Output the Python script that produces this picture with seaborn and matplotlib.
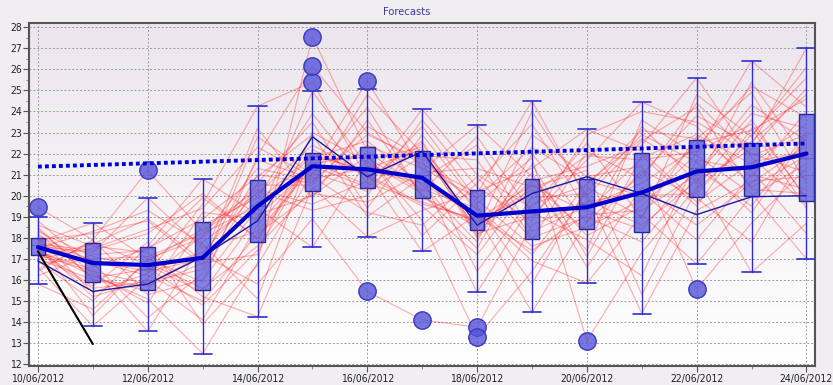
import numpy as np
import pandas as pd
import matplotlib
matplotlib.use('Agg')
import matplotlib.pyplot as plt
import seaborn as sns
from matplotlib.colors import LinearSegmentedColormap
from matplotlib.ticker import MultipleLocator

sns.set_style("white")
plt.rcParams['font.family'] = ['DejaVu Sans']
plt.rcParams['font.stretch'] = 'condensed'

# Tage (x-Achse)
dates = ['10/06/2012', '11/06/2012', '12/06/2012', '13/06/2012', '14/06/2012',
         '15/06/2012', '16/06/2012', '17/06/2012', '18/06/2012', '19/06/2012',
         '20/06/2012', '21/06/2012', '22/06/2012', '23/06/2012', '24/06/2012']

# Ensemble-Mitglieder (rote Linien)
members = [
    [19.45, 17.9, 21.2, 18.3, 20.1, 22.4, 21.0, 19.6, 18.9, 20.5, 19.2, 21.8, 22.9, 21.5, 23.4],
    [17.4, 16.2, 15.1, 12.5, 16.8, 27.55, 22.1, 20.3, 19.4, 17.2, 20.6, 22.7, 21.1, 24.3, 22.6],
    [17.8, 18.7, 17.0, 15.9, 21.9, 26.15, 23.0, 21.5, 20.1, 24.5, 19.8, 18.6, 20.7, 22.2, 25.1],
    [18.0, 15.4, 16.3, 19.6, 24.25, 25.4, 20.8, 22.6, 18.2, 19.0, 21.7, 24.45, 23.3, 20.4, 21.9],
    [17.6, 17.3, 19.9, 17.5, 18.3, 21.3, 25.45, 21.2, 23.35, 20.9, 18.1, 19.5, 22.0, 26.4, 24.2],
    [17.2, 16.4, 15.8, 17.2, 15.8, 18.9, 15.45, 14.1, 13.75, 18.6, 19.7, 20.2, 17.9, 21.0, 20.3],
    [16.9, 15.0, 17.6, 20.8, 19.1, 20.0, 21.9, 18.8, 13.3, 16.4, 20.2, 22.9, 21.6, 19.2, 22.8],
    [17.5, 16.8, 14.2, 16.3, 20.6, 23.5, 19.4, 22.9, 19.6, 21.8, 13.1, 17.3, 20.4, 23.6, 19.8],
    [18.3, 17.1, 16.6, 14.8, 17.4, 21.8, 22.6, 20.5, 17.8, 22.9, 20.9, 21.4, 15.55, 18.7, 21.3],
    [15.8, 14.6, 16.9, 18.4, 20.3, 19.6, 20.7, 24.1, 21.0, 19.4, 22.5, 18.9, 24.8, 22.8, 26.1],
    [17.9, 18.2, 18.8, 16.7, 22.8, 21.0, 24.2, 19.9, 18.7, 20.3, 17.4, 23.6, 21.9, 20.1, 17.0],
    [17.0, 16.0, 15.5, 19.2, 18.9, 24.95, 21.4, 20.8, 22.4, 18.3, 19.5, 20.6, 22.3, 25.2, 23.7],
    [18.6, 17.6, 17.3, 15.2, 14.25, 20.4, 18.05, 19.3, 20.2, 21.3, 23.15, 22.1, 19.7, 21.6, 22.1],
    [17.3, 16.5, 13.55, 17.8, 19.7, 22.0, 21.1, 17.35, 19.1, 14.45, 18.8, 21.0, 23.8, 22.4, 27.0],
    [16.6, 13.8, 16.1, 18.1, 21.3, 20.7, 22.9, 21.7, 16.4, 19.9, 20.1, 14.4, 19.3, 20.7, 20.9],
    [17.7, 17.4, 18.2, 20.1, 17.9, 21.6, 20.5, 23.3, 19.8, 17.6, 18.5, 19.8, 22.5, 23.1, 24.6],
    [18.1, 16.9, 16.4, 17.0, 23.2, 19.9, 23.6, 20.0, 18.5, 20.7, 21.4, 22.4, 25.6, 21.8, 19.6],
    [17.4, 15.7, 17.8, 13.9, 16.7, 21.1, 20.2, 21.9, 21.7, 18.0, 19.0, 17.8, 20.9, 16.35, 18.7],
    [16.4, 17.9, 15.3, 16.0, 19.4, 17.55, 21.7, 22.3, 18.0, 21.1, 16.6, 20.4, 18.6, 20.6, 22.4],
    [18.8, 16.6, 17.5, 18.9, 20.9, 22.9, 19.0, 20.9, 15.4, 19.6, 20.5, 23.1, 22.7, 24.9, 20.6],
    [17.6, 15.2, 16.0, 14.1, 18.6, 21.5, 22.0, 18.1, 20.6, 23.4, 19.3, 18.4, 21.3, 19.5, 23.0],
    [17.1, 17.7, 18.9, 16.9, 21.7, 20.8, 21.3, 22.2, 19.3, 16.9, 15.85, 19.1, 16.75, 20.0, 21.5],
    [18.4, 16.3, 14.9, 18.6, 19.9, 23.9, 20.6, 19.7, 18.8, 20.1, 21.9, 21.7, 22.1, 23.4, 19.9],
    [17.8, 16.7, 16.8, 15.6, 17.6, 20.3, 22.4, 21.3, 19.9, 22.3, 20.7, 20.0, 20.1, 22.9, 25.6],
    [16.2, 17.2, 17.4, 19.9, 18.0, 21.7, 21.8, 20.2, 22.8, 19.2, 17.9, 16.2, 21.7, 21.2, 18.2],
    [18.2, 16.1, 16.5, 17.3, 20.2, 19.3, 20.0, 23.6, 20.4, 18.8, 22.9, 24.0, 23.5, 22.0, 21.1],
    [17.5, 18.3, 19.3, 17.7, 15.1, 22.2, 20.9, 19.5, 17.2, 20.6, 18.3, 21.2, 19.9, 17.8, 22.2],
    [17.3, 15.6, 15.9, 16.5, 21.0, 20.6, 24.8, 22.0, 18.4, 24.0, 20.0, 22.6, 24.2, 20.3, 20.1],
    [16.8, 17.0, 17.1, 18.2, 19.5, 21.9, 21.2, 20.6, 19.0, 17.4, 19.1, 19.3, 21.0, 23.9, 23.2],
    [17.9, 16.9, 16.2, 15.0, 18.2, 20.1, 19.7, 21.1, 21.3, 20.4, 21.2, 15.3, 20.3, 22.6, 24.8],
    [17.0, 17.5, 18.4, 19.4, 22.3, 20.9, 19.2, 18.6, 20.9, 17.9, 22.1, 20.8, 24.4, 21.9, 22.9],
    [18.5, 16.0, 15.7, 16.8, 17.2, 23.0, 21.6, 20.1, 17.5, 22.0, 18.7, 23.3, 20.6, 25.4, 21.7],
    [17.7, 14.3, 17.0, 18.0, 20.5, 20.5, 23.3, 21.8, 19.5, 15.8, 20.4, 19.0, 22.8, 20.9, 24.0],
    [16.5, 17.8, 16.7, 15.4, 19.0, 21.4, 20.4, 22.5, 18.1, 21.5, 17.1, 21.9, 19.5, 23.2, 19.4],
]

# Boxplot-Kennzahlen je Tag
whis_lo = [15.8, 13.8, 13.55, 12.5, 14.25, 17.55, 18.05, 17.35, 15.4, 14.45, 15.85, 14.4, 16.75, 16.35, 17.0]
q1 = [17.2, 15.9, 15.5, 15.5, 17.8, 20.2, 20.35, 19.9, 18.35, 17.95, 18.4, 18.25, 19.95, 20.0, 19.75]
med = [17.65, 16.8, 16.5, 17.0, 19.5, 21.2, 21.2, 21.0, 19.2, 19.3, 19.6, 20.0, 21.3, 21.3, 21.8]
q3 = [18.0, 17.75, 17.55, 18.75, 20.75, 22.05, 22.3, 22.1, 20.25, 20.8, 20.8, 22.05, 22.65, 22.5, 23.9]
whis_hi = [19.0, 18.7, 19.9, 20.8, 24.25, 24.95, 25.05, 24.1, 23.35, 24.5, 23.15, 24.45, 25.6, 26.4, 27.0]
fliers = [[19.45], [], [21.2], [], [], [25.4, 26.15, 27.55], [25.45, 15.45], [14.1],
          [13.75, 13.3], [], [13.1], [], [15.55], [], []]

# Ensemble-Mittel (dicke Linie) und Kontrolllauf (dünne Linie)
mean_line = [17.55, 16.8, 16.7, 17.05, 19.5, 21.4, 21.25, 20.85, 19.05, 19.25, 19.45, 20.15, 21.15, 21.35, 22.0]
control = [16.9, 15.45, 15.8, 17.1, 18.8, 22.8, 20.9, 22.1, 18.6, 20.1, 20.9, 20.1, 19.1, 19.95, 20.0]

# Trendlinie (gepunktet) und schwarze Linie
trend_x = [0, 14]
trend_y = [21.38, 22.48]
black_x = [0, 1]
black_y = [17.35, 12.95]

day_idx = list(range(len(dates)))

df = pd.DataFrame([
    {'member': m, 'day': d, 'value': v}
    for m, row in enumerate(members) for d, v in enumerate(row)
])

fig = plt.figure(figsize=(8.33, 3.85), dpi=100, facecolor='#f0eef1')
ax = fig.add_axes([0.035, 0.049, 0.943, 0.891])

# Hintergrundverlauf
cmap = LinearSegmentedColormap.from_list('bg', ['#ffffff', '#ebe6ed'])
ax.imshow(np.linspace(0, 1, 256).reshape(-1, 1), cmap=cmap, aspect='auto',
          extent=[0, 1, 0, 1], origin='lower', transform=ax.transAxes, zorder=0)

sns.lineplot(data=df, x='day', y='value', units='member', estimator=None,
             color='#ff1e1e', alpha=0.34, lw=0.85, ax=ax, legend=False, zorder=2)

stats = [dict(whislo=whis_lo[i], q1=q1[i], med=med[i], q3=q3[i], whishi=whis_hi[i],
              fliers=fliers[i]) for i in day_idx]
ax.bxp(stats, positions=day_idx, widths=0.27, capwidths=0.33, patch_artist=True,
       boxprops=dict(facecolor=(0.32, 0.32, 0.86, 0.72), edgecolor='#28289a', lw=1),
       whiskerprops=dict(color='#2f2fd0', lw=1),
       capprops=dict(color='#2f2fd0', lw=1.2),
       medianprops=dict(color=(0.2, 0.2, 0.6, 0.35), lw=0.8),
       flierprops=dict(marker='o', markersize=12.5, markerfacecolor=(0.33, 0.33, 0.85, 0.8),
                       markeredgecolor='#3838c0', markeredgewidth=1),
       zorder=3, manage_ticks=False)

sns.lineplot(x=day_idx, y=control, color='#1a1aa8', lw=1.0, ax=ax, zorder=4)
sns.lineplot(x=day_idx, y=mean_line, color='#0000cc', lw=3, ax=ax, zorder=5)
ax.plot(trend_x, trend_y, color='#0000dd', lw=2.8, linestyle=(0, (1, 0.8)),
        dash_capstyle='butt', zorder=5)
sns.lineplot(x=black_x, y=black_y, color='black', lw=1.5, ax=ax, zorder=6)

ax.set_xlim(-0.16, 14.15)
ax.set_ylim(11.9, 28.2)
ax.set_xticks(day_idx[::2])
ax.set_xticklabels(dates[::2])
ax.set_xticks(day_idx[1::2], minor=True)
ax.yaxis.set_major_locator(MultipleLocator(1))
ax.yaxis.set_minor_locator(MultipleLocator(0.5))
ax.set_xlabel('')
ax.set_ylabel('')

ax.grid(True, which='major', color='#9a9a9a', linestyle=(0, (2, 2)), lw=0.7, zorder=1)
ax.set_axisbelow(True)
for s in ax.spines.values():
    s.set_color('#555555')
    s.set_linewidth(1.5)

ax.tick_params(axis='both', which='major', labelsize=7.5, labelcolor='#222222',
               color='#555555', length=4, width=0.8, direction='out', left=True, bottom=True)
ax.tick_params(axis='both', which='minor', color='#777777', length=2, width=0.6,
               direction='out', left=True, bottom=True)
ax.tick_params(axis='x', pad=2)
ax.tick_params(axis='y', pad=1)

fig.text(0.488, 0.968, 'Forecasts', ha='center', va='center', color='#40389a', fontsize=8)

fig.savefig('out.png', dpi=100, facecolor=fig.get_facecolor())
